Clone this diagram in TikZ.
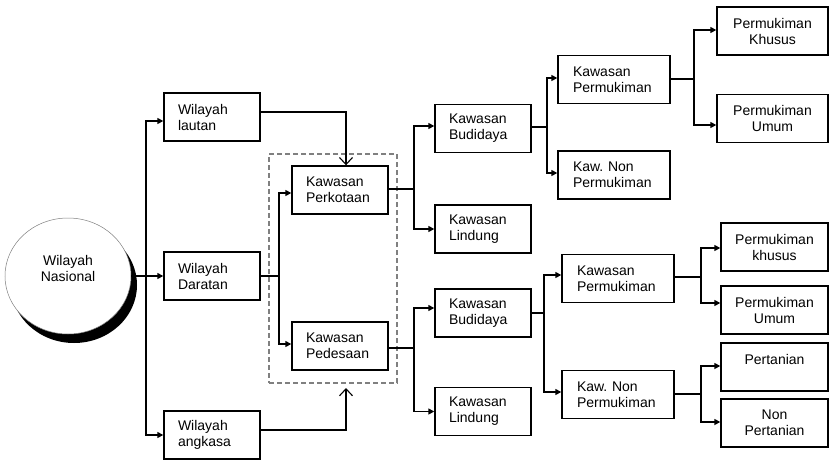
\documentclass[tikz,border=0pt]{standalone}
\usepackage{fontspec}
\setmainfont{Liberation Sans}
\usetikzlibrary{arrows.meta,shapes.geometric}
\newcommand\dfont{\fontsize{14pt}{16pt}\selectfont}
\frenchspacing
\begin{document}
\begin{tikzpicture}[x=1pt,y=-1pt,
 box/.style={draw, line width=1.4pt, minimum height=48pt, inner ysep=0pt, font=\dfont, fill=white},
 lbox/.style={box, align=left, inner xsep=14pt, text width=68pt},
 wbox/.style={box, align=left, inner xsep=15pt, text width=82pt},
 rbox/.style={box, align=center, minimum width=111pt},
 conn/.style={line width=1.6pt},
 arr/.style={line width=1.6pt, -{Triangle[length=6pt,width=6pt]}},
 openarr/.style={line width=1.1pt, -{Straight Barb[length=7pt,width=13pt]}},
 group/.style={draw=gray, line width=1.1pt, dash pattern=on 5pt off 3pt}
]
\useasboundingbox (0,0) rectangle (829,460);
% circle with shadow
\node[ellipse, fill=black, minimum width=126pt, minimum height=116pt, inner sep=0pt] (shadow) at (74,285) {};
\node[ellipse, draw=gray, line width=0.5pt, fill=white, minimum width=126pt, minimum height=116pt, inner sep=0pt, font=\dfont, align=center] (nas) at (68,276) {Wilayah\\Nasional\\\mbox{}};
% boxes
\node[lbox] (lautan) at (212,117) {Wilayah\\lautan};
\node[lbox] (daratan) at (212,276) {Wilayah\\Daratan};
\node[lbox] (angkasa) at (212,435) {Wilayah\\angkasa};
\node[group, minimum width=128pt, minimum height=229pt, inner sep=0pt] (grp) at (333,268.5) {};
\node[lbox] (kota) at (340,190) {Kawasan\\Perkotaan};
\node[lbox] (desa) at (340,346) {Kawasan\\Pedesaan};
\node[lbox] (bud1) at (483,128.5) {Kawasan\\Budidaya};
\node[lbox] (lin1) at (483,229) {Kawasan\\Lindung};
\node[lbox] (bud2) at (483,313) {Kawasan\\Budidaya};
\node[lbox] (lin2) at (483,411.5) {Kawasan\\Lindung};
\node[wbox] (perm1) at (614,79.5) {Kawasan\\Permukiman};
\node[wbox] (non1) at (614,175) {Kaw. Non\\Permukiman};
\node[wbox] (perm2) at (618,278.5) {Kawasan\\Permukiman};
\node[wbox] (non2) at (618,394.5) {Kaw. Non\\Permukiman};
\node[rbox] (khu1) at (772.5,31) {Permukiman\\Khusus};
\node[rbox] (umu1) at (772.5,118.5) {Permukiman\\Umum};
\node[rbox, minimum width=107pt] (khu2) at (774.5,247) {Permukiman\\khusus};
\node[rbox, minimum width=107pt] (umu2) at (774.5,310) {Permukiman\\Umum};
\node[rbox, minimum width=107pt] (tani) at (774.5,367) {Pertanian\\\mbox{}};
\node[rbox, minimum width=107pt] (ntani) at (774.5,423) {Non\\Pertanian};
% trunk
\coordinate (t) at (146,276);
\draw[arr] (nas.east) -- (daratan.west);
\draw[arr] (t) |- ([yshift=-4pt]lautan.west);
\draw[arr] (t) |- (angkasa.west);
% daratan split
\coordinate (d) at (279,276);
\draw[conn] (daratan.east) -- (d);
\draw[arr] (d) |- ([yshift=-3pt]kota.west);
\draw[arr] (d) |- ([yshift=2pt]desa.west);
% lautan and angkasa
\draw[openarr] ([yshift=5pt]lautan.east) -| ([xshift=6pt]kota.north);
\coordinate (ae) at (346,388);
\draw[openarr] ([yshift=5pt]angkasa.east) -| (ae);
% kota split
\coordinate (k) at (414,189);
\draw[conn] ([yshift=1pt]kota.east) -- (k);
\draw[arr] (k) |- ([yshift=2.5pt]bud1.west);
\draw[arr] (k) |- (lin1.west);
% desa split
\coordinate (p) at (414,348);
\draw[conn] ([yshift=-2pt]desa.east) -- (p);
\draw[arr] (p) |- ([yshift=5pt]bud2.west);
\draw[arr] (p) |- (lin2.west);
% bud1 split
\coordinate (b1) at (547,127);
\draw[conn] ([yshift=1.5pt]bud1.east) -- (b1);
\draw[arr] (b1) |- ([yshift=1.5pt]perm1.west);
\draw[arr] (b1) |- ([yshift=2pt]non1.west);
% bud2 split
\coordinate (b2) at (544,313);
\draw[conn] (bud2.east) -- (b2);
\draw[arr] (b2) |- ([yshift=3.5pt]perm2.west);
\draw[arr] (b2) |- ([yshift=2.5pt]non2.west);
% perm1 split
\coordinate (m1) at (694,79);
\draw[conn] ([yshift=0.5pt]perm1.east) -- (m1);
\draw[arr] (m1) |- ([yshift=1pt]khu1.west);
\draw[arr] (m1) |- ([yshift=-6.5pt]umu1.west);
% perm2 split
\coordinate (m2) at (701,277);
\draw[conn] ([yshift=1.5pt]perm2.east) -- (m2);
\draw[arr] (m2) |- ([yshift=-1pt]khu2.west);
\draw[arr] (m2) |- ([yshift=7pt]umu2.west);
% non2 split
\coordinate (n2) at (701,394);
\draw[conn] ([yshift=0.5pt]non2.east) -- (n2);
\draw[arr] (n2) |- ([yshift=1pt]tani.west);
\draw[arr] (n2) |- ([yshift=1pt]ntani.west);
\end{tikzpicture}
\end{document}
